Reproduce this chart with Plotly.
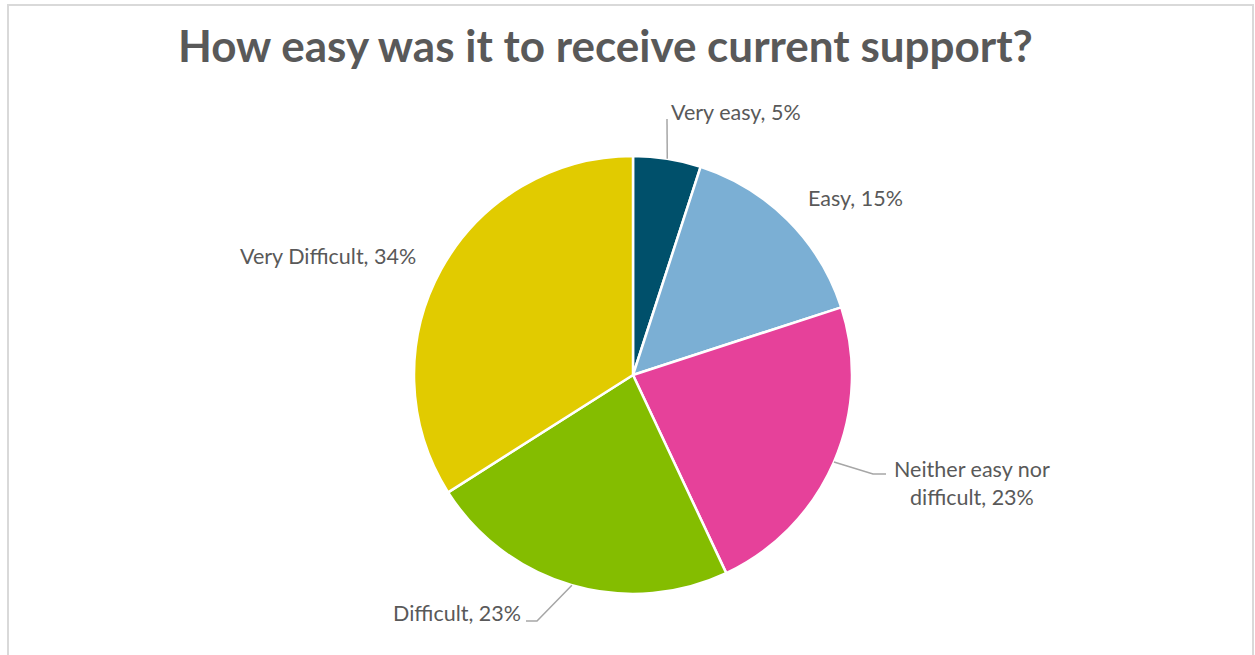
import math
import plotly.graph_objects as go

# Survey answers and their shares (%)
categories = ["Very easy", "Easy", "Neither easy nor difficult", "Difficult", "Very Difficult"]
shares = [5, 15, 23, 23, 34]
label_texts = ["Very easy, 5%", "Easy, 15%", "Neither easy nor<br>difficult, 23%",
               "Difficult, 23%", "Very Difficult, 34%"]
slice_colors = ["#00506B", "#7BAFD4", "#E6419A", "#84BD00", "#E1CB00"]

# Canvas and pie geometry (pixels)
W, H = 1255, 655
CX, CY, R = 633, 375, 219

# Label placement (pixels): x, y, xanchor
label_pos = [
    (669, 112, "left"),
    (806, 198, "left"),
    (972, 483, "center"),
    (523, 613, "right"),
    (418, 256, "right"),
]
# Leader-line bends / end points (pixels) after the slice edge point; None = no leader
leader_pts = [
    [(667, 119)],
    None,
    [(873, 474), (886, 474)],
    [(537, 621), (526, 621)],
    None,
]


def px(x):
    return x / W


def py(y):
    return 1 - y / H


fig = go.Figure(go.Pie(
    labels=categories,
    values=shares,
    sort=False,
    direction="clockwise",
    rotation=0,
    marker=dict(colors=slice_colors, line=dict(color="white", width=2.5)),
    textinfo="none",
    hoverinfo="label+percent",
    showlegend=False,
    domain=dict(x=[px(CX - R), px(CX + R)], y=[py(CY + R), py(CY - R)]),
))

annotations = []
shapes = []
total = sum(shares)
cum = 0
for i, v in enumerate(shares):
    mid = (cum + v / 2) / total * 2 * math.pi
    cum += v
    x, y, anchor = label_pos[i]
    annotations.append(dict(
        x=px(x), y=py(y), xref="paper", yref="paper",
        text=label_texts[i], showarrow=False,
        xanchor=anchor, yanchor="middle", align="center",
        font=dict(family="Lato, sans-serif", size=21.5, color="#595959"),
    ))
    if leader_pts[i]:
        ex = CX + R * math.sin(mid)
        ey = CY - R * math.cos(mid)
        pts = [(ex, ey)] + leader_pts[i]
        path = "M " + " L ".join(f"{px(a):.5f},{py(b):.5f}" for a, b in pts)
        shapes.append(dict(type="path", path=path, xref="paper", yref="paper",
                           line=dict(color="#A6A6A6", width=1.5)))

# Chart frame
shapes.append(dict(type="rect", xref="paper", yref="paper",
                   x0=px(8), x1=px(1253), y0=py(700), y1=py(5),
                   line=dict(color="#D9D9D9", width=2), layer="below"))

annotations.append(dict(
    x=px(605), y=py(45), xref="paper", yref="paper",
    text="<b>How easy was it to receive current support?</b>", showarrow=False,
    xanchor="center", yanchor="middle",
    font=dict(family="Lato, sans-serif", size=44, color="#595959"),
))

fig.update_layout(
    width=W, height=H,
    margin=dict(l=0, r=0, t=0, b=0),
    paper_bgcolor="white",
    plot_bgcolor="white",
    annotations=annotations,
    shapes=shapes,
)

fig.write_html("out.html")
